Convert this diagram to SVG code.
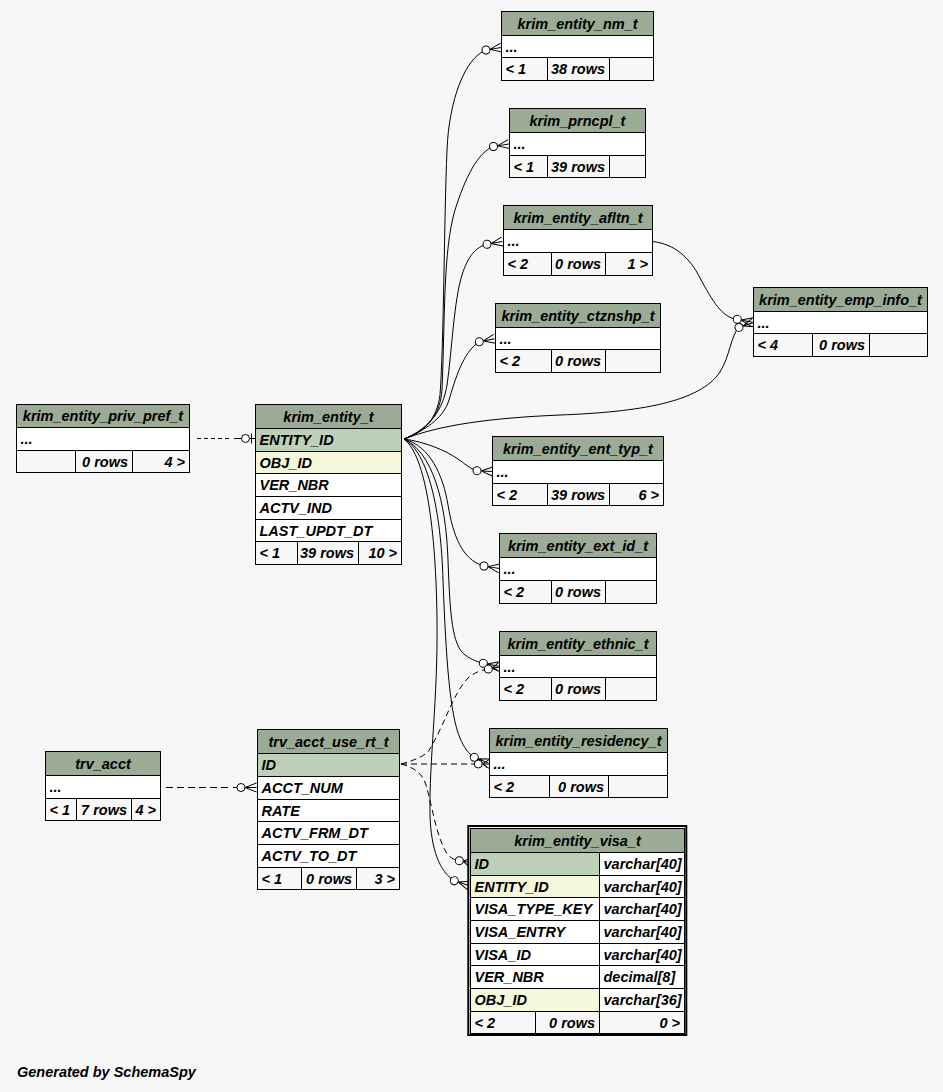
<svg xmlns="http://www.w3.org/2000/svg" width="943" height="1092" viewBox="0 0 943 1092">
<style>
text{font-family:"Liberation Sans",Arial,Helvetica,sans-serif;font-weight:bold;font-style:italic;font-size:14.5px;fill:#000}
.c{text-anchor:middle}
.r{text-anchor:end}
.h{fill:#9bab96;stroke:#000;stroke-width:1}
.w{fill:#fff;stroke:#000;stroke-width:1}
.f{fill:#f7f7f7;stroke:#000;stroke-width:1}
.pk{fill:#bed1b8;stroke:#000;stroke-width:1}
.ix{fill:#f4f7da;stroke:#000;stroke-width:1}
.e{fill:none;stroke:#000;stroke-width:1}
.d{stroke-dasharray:6,4}
.mk{fill:none;stroke:#000;stroke-width:1}
.od{fill:#fff;stroke:#000;stroke-width:1}
</style>
<defs>
<g id="co"><path class="mk" d="M4,0 L15.5,-4.5 M4,0 L15.5,0 M4,0 L15.5,4.5"/><circle class="od" r="4"/></g>
<g id="cos"><path class="mk" stroke-width="1.6" d="M4,0 L11,-4.5 M4,0 L11,0 M4,0 L11,4.5"/><circle class="od" r="4"/></g>
</defs>
<rect x="0" y="0" width="943" height="1092" fill="#f7f7f7"/>

<g id="connectors">
<path class="e" d="M404,439 C425,432 437,418 440,395 C444,340 444,220 447,150 C449,100 465,58 486,50"/>
<path class="e" d="M404,439 C428,430 440,415 442,390 C445,320 443,250 455,210 C465,178 478,152 493.5,146.5"/>
<path class="e" d="M404,439 C430,428 443,410 447,385 C452,350 454,300 462,275 C468,256 476,247 487,244.3"/>
<path class="e" d="M404,439 C430,428 444,416 449,400 C455,380 463,352 479.3,341.7"/>
<path class="e" d="M404,439 C440,425 490,418 560,415 C640,412 700,402 720,372 C730,356 731,335 739,327.3"/>
<path class="e" d="M652.5,241.5 C675,244 690,258 700,278 C712,300 722,318 737.3,319.3"/>
<path class="e" d="M404,439 C425,442 445,450 458,459 C464,463 470,469 477,470.7"/>
<path class="e" d="M404,439 C430,446 443,475 448,505 C453,535 462,560 484,566"/>
<path class="e" d="M404,439 C432,452 446,500 448,560 C450,615 452,645 465,655 C472,660 478,662 483.3,663.3"/>
<path class="e" d="M404,439 C428,452 441,510 443,580 C446,660 450,715 460,738 C464,748 469,754 474.3,757.3"/>
<path class="e" d="M404,439 C426,456 436,530 437,620 C438,700 429,760 430,815 C431,850 440,872 454.3,880.7"/>
<path class="e d" d="M401,764 L474,764"/>
<path class="e d" d="M401,764 C415,760 422,757 428,752 C445,725 452,695 468,678 C475,672 482,670 488.3,669"/>
<path class="e d" d="M401,764 C415,768 422,773 426,785 C432,805 436,835 446,852 C450,858 454,860 459.3,860.7"/>
<path class="e" stroke-dasharray="4,3" d="M197,438.5 L231,438.5"/>
<path class="e" d="M234,438.5 L245,438.5"/>
<path class="e" stroke-dasharray="7,4" d="M166,787.5 L230,787.5"/>
<path class="e" d="M233,787.5 L241,787.5"/>
<use href="#co" transform="translate(486,50) rotate(-9)"/>
<use href="#co" transform="translate(493.5,146.5) rotate(-9)"/>
<use href="#co" transform="translate(487,244.3) rotate(-10)"/>
<use href="#co" transform="translate(479.3,341.7) rotate(-11)"/>
<use href="#co" transform="translate(477,470.7) rotate(3)"/>
<use href="#co" transform="translate(484,566) rotate(9)"/>
<use href="#co" transform="translate(483.3,663.3) rotate(11)"/>
<use href="#cos" transform="translate(488.3,669) rotate(-10)"/>
<use href="#co" transform="translate(474.3,757.3) rotate(22)"/>
<use href="#cos" transform="translate(478.3,764)"/>
<use href="#cos" transform="translate(459.3,860.7) rotate(9)"/>
<use href="#co" transform="translate(454.3,880.7) rotate(18)"/>
<use href="#co" transform="translate(737.3,319.3) rotate(11)"/>
<use href="#co" transform="translate(739,327.3) rotate(-18)"/>
<use href="#co" transform="translate(241,787.5)"/>
<path class="mk" d="M249.5,438.5 L255,438.5"/>
<path class="mk" stroke-width="2" d="M251.5,433.5 L251.5,443.5"/>
<circle class="od" cx="245.5" cy="438.5" r="4"/>
</g>

<g id="krim_entity_nm_t">
<rect class="h" x="501.5" y="11.5" width="152" height="24"/>
<rect class="w" x="501.5" y="35.5" width="152" height="22"/>
<rect class="f" x="501.5" y="57.5" width="46" height="23"/>
<rect class="f" x="547.5" y="57.5" width="62" height="23"/>
<rect class="f" x="609.5" y="57.5" width="44" height="23"/>
<text class="c" x="577.5" y="28.5">krim_entity_nm_t</text>
<text x="505.5" y="51.5">...</text>
<text x="505.5" y="74">&lt; 1</text>
<text class="r" x="605" y="74">38 rows</text>
</g>

<g id="krim_prncpl_t">
<rect class="h" x="509.5" y="108.5" width="136" height="24"/>
<rect class="w" x="509.5" y="132.5" width="136" height="23"/>
<rect class="f" x="509.5" y="155.5" width="38" height="22"/>
<rect class="f" x="547.5" y="155.5" width="62" height="22"/>
<rect class="f" x="609.5" y="155.5" width="36" height="22"/>
<text class="c" x="577.5" y="125.5">krim_prncpl_t</text>
<text x="513.5" y="149">...</text>
<text x="513.5" y="171.5">&lt; 1</text>
<text class="r" x="605" y="171.5">39 rows</text>
</g>

<g id="krim_entity_afltn_t">
<rect class="h" x="503.5" y="205.5" width="149" height="24"/>
<rect class="w" x="503.5" y="229.5" width="149" height="23"/>
<rect class="f" x="503.5" y="252.5" width="48" height="23"/>
<rect class="f" x="551.5" y="252.5" width="54" height="23"/>
<rect class="f" x="605.5" y="252.5" width="47" height="23"/>
<text class="c" x="578" y="222.5">krim_entity_afltn_t</text>
<text x="507.5" y="246">...</text>
<text x="507.5" y="269">&lt; 2</text>
<text class="r" x="601" y="269">0 rows</text>
<text class="r" x="648" y="269">1 &gt;</text>
</g>

<g id="krim_entity_ctznshp_t">
<rect class="h" x="495.5" y="303.5" width="165" height="24"/>
<rect class="w" x="495.5" y="327.5" width="165" height="22"/>
<rect class="f" x="495.5" y="349.5" width="56" height="23"/>
<rect class="f" x="551.5" y="349.5" width="54" height="23"/>
<rect class="f" x="605.5" y="349.5" width="55" height="23"/>
<text class="c" x="578" y="320.5">krim_entity_ctznshp_t</text>
<text x="499.5" y="343.5">...</text>
<text x="499.5" y="366">&lt; 2</text>
<text class="r" x="601" y="366">0 rows</text>
</g>

<g id="krim_entity_emp_info_t">
<rect class="h" x="753.5" y="287.5" width="174" height="24"/>
<rect class="w" x="753.5" y="311.5" width="174" height="22"/>
<rect class="f" x="753.5" y="333.5" width="59" height="23"/>
<rect class="f" x="812.5" y="333.5" width="57" height="23"/>
<rect class="f" x="869.5" y="333.5" width="58" height="23"/>
<text class="c" x="840.5" y="304.5">krim_entity_emp_info_t</text>
<text x="757.5" y="327.5">...</text>
<text x="757.5" y="350">&lt; 4</text>
<text class="r" x="865" y="350">0 rows</text>
</g>

<g id="krim_entity_priv_pref_t">
<rect class="h" x="16.5" y="404.5" width="173" height="23"/>
<rect class="w" x="16.5" y="427.5" width="173" height="23"/>
<rect class="f" x="16.5" y="450.5" width="59" height="22"/>
<rect class="f" x="75.5" y="450.5" width="57" height="22"/>
<rect class="f" x="132.5" y="450.5" width="57" height="22"/>
<text class="c" x="103" y="421">krim_entity_priv_pref_t</text>
<text x="20.5" y="444">...</text>
<text class="r" x="128" y="466.5">0 rows</text>
<text class="r" x="185" y="466.5">4 &gt;</text>
</g>

<g id="krim_entity_t">
<rect class="h" x="255.5" y="404.5" width="146" height="24"/>
<rect class="pk" x="255.5" y="428.5" width="146" height="23"/>
<rect class="ix" x="255.5" y="451.5" width="146" height="22"/>
<rect class="w" x="255.5" y="473.5" width="146" height="23"/>
<rect class="w" x="255.5" y="496.5" width="146" height="23"/>
<rect class="w" x="255.5" y="519.5" width="146" height="22"/>
<rect class="f" x="255.5" y="541.5" width="42" height="23"/>
<rect class="f" x="297.5" y="541.5" width="61" height="23"/>
<rect class="f" x="358.5" y="541.5" width="43" height="23"/>
<text class="c" x="328.5" y="421.5">krim_entity_t</text>
<text x="259.5" y="445">ENTITY_ID</text>
<text x="259.5" y="467.5">OBJ_ID</text>
<text x="259.5" y="490">VER_NBR</text>
<text x="259.5" y="513">ACTV_IND</text>
<text x="259.5" y="535.5">LAST_UPDT_DT</text>
<text x="259.5" y="558">&lt; 1</text>
<text class="r" x="354" y="558">39 rows</text>
<text class="r" x="397" y="558">10 &gt;</text>
</g>

<g id="krim_entity_ent_typ_t">
<rect class="h" x="492.5" y="436.5" width="171" height="24"/>
<rect class="w" x="492.5" y="460.5" width="171" height="23"/>
<rect class="f" x="492.5" y="483.5" width="55" height="22"/>
<rect class="f" x="547.5" y="483.5" width="62" height="22"/>
<rect class="f" x="609.5" y="483.5" width="54" height="22"/>
<text class="c" x="578" y="453.5">krim_entity_ent_typ_t</text>
<text x="496.5" y="477">...</text>
<text x="496.5" y="499.5">&lt; 2</text>
<text class="r" x="605" y="499.5">39 rows</text>
<text class="r" x="659" y="499.5">6 &gt;</text>
</g>

<g id="krim_entity_ext_id_t">
<rect class="h" x="499.5" y="533.5" width="157" height="24"/>
<rect class="w" x="499.5" y="557.5" width="157" height="23"/>
<rect class="f" x="499.5" y="580.5" width="52" height="23"/>
<rect class="f" x="551.5" y="580.5" width="54" height="23"/>
<rect class="f" x="605.5" y="580.5" width="51" height="23"/>
<text class="c" x="578" y="550.5">krim_entity_ext_id_t</text>
<text x="503.5" y="574">...</text>
<text x="503.5" y="597">&lt; 2</text>
<text class="r" x="601" y="597">0 rows</text>
</g>

<g id="krim_entity_ethnic_t">
<rect class="h" x="499.5" y="631.5" width="157" height="24"/>
<rect class="w" x="499.5" y="655.5" width="157" height="22"/>
<rect class="f" x="499.5" y="677.5" width="52" height="23"/>
<rect class="f" x="551.5" y="677.5" width="54" height="23"/>
<rect class="f" x="605.5" y="677.5" width="51" height="23"/>
<text class="c" x="578" y="648.5">krim_entity_ethnic_t</text>
<text x="503.5" y="671.5">...</text>
<text x="503.5" y="694">&lt; 2</text>
<text class="r" x="601" y="694">0 rows</text>
</g>

<g id="krim_entity_residency_t">
<rect class="h" x="489.5" y="728.5" width="178" height="24"/>
<rect class="w" x="489.5" y="752.5" width="178" height="23"/>
<rect class="f" x="489.5" y="775.5" width="60" height="22"/>
<rect class="f" x="549.5" y="775.5" width="59" height="22"/>
<rect class="f" x="608.5" y="775.5" width="59" height="22"/>
<text class="c" x="578.5" y="745.5">krim_entity_residency_t</text>
<text x="493.5" y="769">...</text>
<text x="493.5" y="791.5">&lt; 2</text>
<text class="r" x="604" y="791.5">0 rows</text>
</g>

<g id="trv_acct">
<rect class="h" x="45.5" y="751.5" width="115" height="24"/>
<rect class="w" x="45.5" y="775.5" width="115" height="23"/>
<rect class="f" x="45.5" y="798.5" width="31" height="22"/>
<rect class="f" x="76.5" y="798.5" width="55" height="22"/>
<rect class="f" x="131.5" y="798.5" width="29" height="22"/>
<text class="c" x="103" y="768.5">trv_acct</text>
<text x="49.5" y="792">...</text>
<text x="49.5" y="814.5">&lt; 1</text>
<text class="r" x="127" y="814.5">7 rows</text>
<text class="r" x="156" y="814.5">4 &gt;</text>
</g>

<g id="trv_acct_use_rt_t">
<rect class="h" x="257.5" y="729.5" width="142" height="24"/>
<rect class="pk" x="257.5" y="753.5" width="142" height="23"/>
<rect class="w" x="257.5" y="776.5" width="142" height="23"/>
<rect class="w" x="257.5" y="799.5" width="142" height="22"/>
<rect class="w" x="257.5" y="821.5" width="142" height="23"/>
<rect class="w" x="257.5" y="844.5" width="142" height="23"/>
<rect class="f" x="257.5" y="867.5" width="44" height="22"/>
<rect class="f" x="301.5" y="867.5" width="55" height="22"/>
<rect class="f" x="356.5" y="867.5" width="43" height="22"/>
<text class="c" x="328.5" y="746.5">trv_acct_use_rt_t</text>
<text x="261.5" y="770">ID</text>
<text x="261.5" y="793">ACCT_NUM</text>
<text x="261.5" y="815.5">RATE</text>
<text x="261.5" y="838">ACTV_FRM_DT</text>
<text x="261.5" y="861">ACTV_TO_DT</text>
<text x="261.5" y="883.5">&lt; 1</text>
<text class="r" x="352" y="883.5">0 rows</text>
<text class="r" x="395" y="883.5">3 &gt;</text>
</g>

<g id="krim_entity_visa_t">
<rect x="468.3" y="826" width="218" height="209" fill="#f7f7f7" stroke="#000" stroke-width="2"/>
<rect class="h" x="470.5" y="828.5" width="214" height="24"/>
<rect class="pk" x="470.5" y="852.5" width="129" height="23"/>
<rect class="w" x="599.5" y="852.5" width="85" height="23"/>
<rect class="ix" x="470.5" y="875.5" width="129" height="22"/>
<rect class="w" x="599.5" y="875.5" width="85" height="22"/>
<rect class="w" x="470.5" y="897.5" width="129" height="23"/>
<rect class="w" x="599.5" y="897.5" width="85" height="23"/>
<rect class="w" x="470.5" y="920.5" width="129" height="23"/>
<rect class="w" x="599.5" y="920.5" width="85" height="23"/>
<rect class="w" x="470.5" y="943.5" width="129" height="22"/>
<rect class="w" x="599.5" y="943.5" width="85" height="22"/>
<rect class="w" x="470.5" y="965.5" width="129" height="23"/>
<rect class="w" x="599.5" y="965.5" width="85" height="23"/>
<rect class="ix" x="470.5" y="988.5" width="129" height="23"/>
<rect class="w" x="599.5" y="988.5" width="85" height="23"/>
<rect class="f" x="470.5" y="1011.5" width="65" height="22"/>
<rect class="f" x="535.5" y="1011.5" width="64" height="22"/>
<rect class="f" x="599.5" y="1011.5" width="85" height="22"/>
<text class="c" x="577.5" y="845.5">krim_entity_visa_t</text>
<text x="474.5" y="869">ID</text>
<text x="603.5" y="869">varchar[40]</text>
<text x="474.5" y="891.5">ENTITY_ID</text>
<text x="603.5" y="891.5">varchar[40]</text>
<text x="474.5" y="914">VISA_TYPE_KEY</text>
<text x="603.5" y="914">varchar[40]</text>
<text x="474.5" y="937">VISA_ENTRY</text>
<text x="603.5" y="937">varchar[40]</text>
<text x="474.5" y="959.5">VISA_ID</text>
<text x="603.5" y="959.5">varchar[40]</text>
<text x="474.5" y="982">VER_NBR</text>
<text x="603.5" y="982">decimal[8]</text>
<text x="474.5" y="1005">OBJ_ID</text>
<text x="603.5" y="1005">varchar[36]</text>
<text x="474.5" y="1027.5">&lt; 2</text>
<text class="r" x="595" y="1027.5">0 rows</text>
<text class="r" x="680" y="1027.5">0 &gt;</text>
</g>

<text x="17" y="1077">Generated by SchemaSpy</text>
</svg>
